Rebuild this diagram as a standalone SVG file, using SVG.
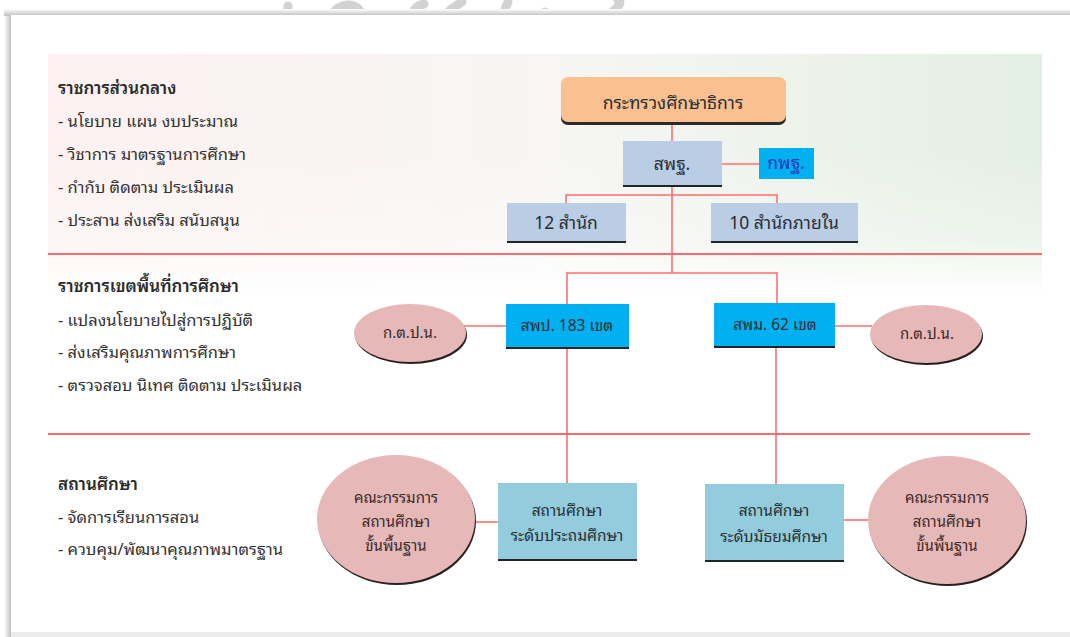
<svg xmlns="http://www.w3.org/2000/svg" width="1070" height="637" viewBox="0 0 1070 637">
<defs>
<linearGradient id="panelH" x1="0" y1="0" x2="1" y2="0">
<stop offset="0" stop-color="#fdf1f1"/>
<stop offset="0.5" stop-color="#f7f6f4"/>
<stop offset="1" stop-color="#e4efe3"/>
</linearGradient>
<linearGradient id="fade" x1="0" y1="0" x2="0" y2="1">
<stop offset="0" stop-color="#fff" stop-opacity="0"/>
<stop offset="0.6" stop-color="#fff" stop-opacity="0.3"/>
<stop offset="1" stop-color="#fff" stop-opacity="1"/>
</linearGradient>
<linearGradient id="shadowL" x1="0" y1="0" x2="1" y2="0">
<stop offset="0" stop-color="#fff"/>
<stop offset="1" stop-color="#b8b8b8"/>
</linearGradient>
<linearGradient id="shadowT" x1="0" y1="0" x2="0" y2="1">
<stop offset="0" stop-color="#fff"/>
<stop offset="1" stop-color="#bdbdbd"/>
</linearGradient>
</defs>
<style>
text{font-family:"Noto Sans Thai Looped","Leelawadee UI",Tahoma,"Noto Sans Thai","Noto Sans","DejaVu Sans",sans-serif;fill:#333;}
.side{font-size:16.5px;}
.head{font-size:17px;font-weight:600;fill:#2b2b2b;}
.lbl{font-size:17.5px;text-anchor:middle;fill:#2a2f36;}
.sml{font-size:15.5px;text-anchor:middle;fill:#2a2f36;}
.ell{font-size:15px;text-anchor:middle;fill:#3c2a2a;}
.lite{fill:#b9cde5;}
.cyan{fill:#00b0f0;}
.teal{fill:#93cddd;}
.pink{fill:#e6b9b8;}
.under{fill:#1e2626;}
.sep{stroke:#ff6a6a;stroke-width:2.2;fill:none;}
.con{stroke:#ff6f6f;stroke-width:1.6;fill:none;}
.wm{stroke:#c8c8c8;stroke-width:9;fill:none;stroke-linecap:round;}
</style>

<!-- watermark remnants -->
<g id="watermark" opacity="0.8">
<path class="wm" d="M286 30 L288 6"/>
<path class="wm" d="M330 30 C328 18 334 6 348 5 C360 5 366 16 360 30"/>
<path class="wm" d="M415 30 C408 20 412 6 424 4 M430 30 C440 18 452 8 462 2"/>
<path class="wm" d="M500 30 C502 18 505 8 508 2"/>
<path class="wm" d="M545 12 C560 30 590 30 610 14 C620 6 622 2 618 0"/>
</g>

<!-- card -->
<rect x="4" y="10" width="8" height="627" fill="url(#shadowL)"/>
<rect x="4" y="9" width="1066" height="7" fill="url(#shadowT)"/>
<rect x="11" y="15" width="1059" height="618" fill="#fff"/>
<rect x="11" y="632" width="1059" height="5" fill="#ececec"/>

<!-- background panel -->
<rect x="48" y="54" width="994" height="240" fill="url(#panelH)"/>
<rect x="48" y="150" width="994" height="146" fill="url(#fade)"/>

<!-- section separators -->
<g id="separators">
<line class="sep" x1="48" y1="254" x2="1042" y2="254"/>
<line class="sep" x1="48" y1="434" x2="1030" y2="434"/>
</g>

<!-- side texts -->
<g id="side-central">
<text class="head" x="58" y="94">ราชการส่วนกลาง</text>
<text class="side" x="58" y="127">- นโยบาย แผน งบประมาณ</text>
<text class="side" x="58" y="160">- วิชาการ มาตรฐานการศึกษา</text>
<text class="side" x="58" y="193">- กำกับ ติดตาม ประเมินผล</text>
<text class="side" x="58" y="226">- ประสาน ส่งเสริม สนับสนุน</text>
</g>
<g id="side-area">
<text class="head" x="58" y="292">ราชการเขตพื้นที่การศึกษา</text>
<text class="side" x="58" y="326">- แปลงนโยบายไปสู่การปฏิบัติ</text>
<text class="side" x="58" y="358">- ส่งเสริมคุณภาพการศึกษา</text>
<text class="side" x="58" y="391">- ตรวจสอบ นิเทศ ติดตาม ประเมินผล</text>
</g>
<g id="side-school">
<text class="head" x="58" y="490">สถานศึกษา</text>
<text class="side" x="58" y="523">- จัดการเรียนการสอน</text>
<text class="side" x="58" y="555">- ควบคุม/พัฒนาคุณภาพมาตรฐาน</text>
</g>

<!-- connectors -->
<g id="connectors">
<line class="con" x1="672" y1="123" x2="672" y2="273"/>
<line class="con" x1="722" y1="164" x2="759" y2="164"/>
<polyline class="con" points="566,203 566,195 777,195 777,203"/>
<polyline class="con" points="567,304 567,273 777,273 777,304"/>
<line class="con" x1="464" y1="326" x2="506" y2="326"/>
<line class="con" x1="835" y1="326" x2="872" y2="326"/>
<line class="con" x1="567" y1="348" x2="567" y2="483"/>
<line class="con" x1="776" y1="348" x2="776" y2="484"/>
<line class="con" x1="474" y1="522" x2="499" y2="522"/>
<line class="con" x1="844" y1="520" x2="869" y2="520"/>
</g>

<!-- nodes -->
<g id="ministry">
<rect x="561" y="79" width="225" height="46" rx="7" fill="#2a2a2a"/>
<rect x="561" y="77" width="225" height="45" rx="7" fill="#fac090"/>
<text class="lbl" x="673" y="109">กระทรวงศึกษาธิการ</text>
</g>
<g id="obec">
<rect class="under" x="623" y="184" width="99" height="3"/>
<rect class="lite" x="623" y="141" width="99" height="44"/>
<text class="lbl" x="672" y="170">สพฐ.</text>
</g>
<g id="kpt">
<rect class="cyan" x="759" y="148" width="55" height="31"/>
<text class="lbl" x="786" y="169" style="fill:#2536b8">กพฐ.</text>
</g>
<g id="office12">
<rect class="under" x="507" y="240" width="119" height="3"/>
<rect class="lite" x="507" y="203" width="119" height="38"/>
<text class="lbl" x="566" y="229">12 สำนัก</text>
</g>
<g id="office10">
<rect class="under" x="711" y="240" width="147" height="3"/>
<rect class="lite" x="711" y="203" width="147" height="38"/>
<text class="lbl" x="784" y="229">10 สำนักภายใน</text>
</g>
<g id="spp">
<rect class="under" x="506" y="346" width="123" height="3"/>
<rect class="cyan" x="506" y="304" width="123" height="43"/>
<text class="sml" x="567" y="331">สพป. 183 เขต</text>
</g>
<g id="spm">
<rect class="under" x="714" y="345" width="121" height="3"/>
<rect class="cyan" x="714" y="303" width="121" height="43"/>
<text class="sml" x="775" y="330">สพม. 62 เขต</text>
</g>
<g id="ktpn-left">
<ellipse cx="411" cy="335" rx="56" ry="29" fill="#2a2020"/>
<ellipse class="pink" cx="410" cy="333" rx="56" ry="29"/>
<text class="ell" x="410" y="338">ก.ต.ป.น.</text>
</g>
<g id="ktpn-right">
<ellipse cx="927" cy="336" rx="56" ry="29" fill="#2a2020"/>
<ellipse class="pink" cx="926" cy="334" rx="56" ry="29"/>
<text class="ell" x="927" y="339">ก.ต.ป.น.</text>
</g>
<g id="primary">
<rect class="under" x="498" y="558" width="139" height="3"/>
<rect class="teal" x="498" y="483" width="139" height="76"/>
<text class="sml" x="567" y="516">สถานศึกษา</text>
<text class="sml" x="567" y="541">ระดับประถมศึกษา</text>
</g>
<g id="secondary">
<rect class="under" x="705" y="559" width="139" height="3"/>
<rect class="teal" x="705" y="484" width="139" height="76"/>
<text class="sml" x="774" y="516">สถานศึกษา</text>
<text class="sml" x="774" y="542">ระดับมัธยมศึกษา</text>
</g>
<g id="board-left">
<ellipse cx="397" cy="521" rx="79" ry="64" fill="#2a2020"/>
<ellipse class="pink" cx="396" cy="519" rx="79" ry="64"/>
<text class="ell" x="396" y="503">คณะกรรมการ</text>
<text class="ell" x="396" y="527">สถานศึกษา</text>
<text class="ell" x="396" y="551">ขั้นพื้นฐาน</text>
</g>
<g id="board-right">
<ellipse cx="948" cy="522" rx="79" ry="64" fill="#2a2020"/>
<ellipse class="pink" cx="947" cy="520" rx="79" ry="64"/>
<text class="ell" x="947" y="503">คณะกรรมการ</text>
<text class="ell" x="947" y="527">สถานศึกษา</text>
<text class="ell" x="947" y="551">ขั้นพื้นฐาน</text>
</g>
</svg>
